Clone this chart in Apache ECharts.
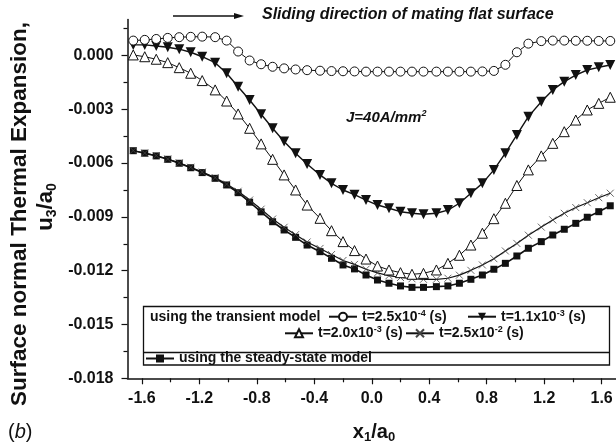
<!DOCTYPE html>
<html>
<head>
<meta charset="utf-8">
<script src="https://cdn.jsdelivr.net/npm/echarts@6/dist/echarts.min.js"></script>
<style>
  html, body { margin: 0; padding: 0; background: #fff; }
  #chart { width: 616px; height: 444px; }
</style>
</head>
<body>
<div id="chart"></div>
<script>
// Normalised position along the surface, x1/a0
const xPos = [-1.66, -1.58, -1.50, -1.42, -1.34, -1.26, -1.18, -1.09, -1.01, -0.93,
  -0.85, -0.77, -0.69, -0.61, -0.53, -0.45, -0.36, -0.28, -0.20, -0.12,
  -0.04, 0.04, 0.12, 0.20, 0.28, 0.36, 0.45, 0.53, 0.61, 0.69,
  0.77, 0.85, 0.93, 1.01, 1.09, 1.18, 1.26, 1.34, 1.42, 1.50, 1.58, 1.66];

// Transient model, t = 2.5x10^-4 s
const uT1 = [0.00083, 0.00087, 0.00092, 0.00098, 0.00102, 0.00104, 0.00105, 0.00102, 0.00083, 0.00022,
  -0.00028, -0.00049, -0.00063, -0.00072, -0.00078, -0.00082, -0.00085, -0.00087, -0.00088, -0.00089,
  -0.0009, -0.0009, -0.0009, -0.0009, -0.0009, -0.0009, -0.0009, -0.0009, -0.0009, -0.0009,
  -0.00089, -0.00086, -0.00052, 0.00018, 0.00066, 0.0008, 0.00083, 0.00083, 0.00082, 0.00082, 0.00081, 0.00081];

// Transient model, t = 1.1x10^-3 s
const uT2 = [0.00059, 0.00059, 0.00053, 0.00046, 0.00035, 0.00018, -0.00007, -0.0004, -0.00099, -0.00174,
  -0.00248, -0.00328, -0.00406, -0.0048, -0.00545, -0.00605, -0.00666, -0.00713, -0.0075, -0.00776,
  -0.00806, -0.00834, -0.00852, -0.00871, -0.0088, -0.00885, -0.0088, -0.00862, -0.00824, -0.00768,
  -0.00713, -0.00638, -0.00545, -0.00443, -0.00341, -0.00258, -0.00192, -0.00146, -0.00109, -0.00081, -0.00066, -0.00053];

// Transient model, t = 2.0x10^-3 s
const uT3 = [0.00003, -0.00007, -0.00021, -0.0004, -0.00068, -0.00099, -0.0014, -0.00192, -0.00254, -0.00326,
  -0.00406, -0.00493, -0.00579, -0.00666, -0.0075, -0.00834, -0.00908, -0.00977, -0.01038, -0.01088,
  -0.01135, -0.01174, -0.01196, -0.01211, -0.0122, -0.01215, -0.01196, -0.01159, -0.01114, -0.01057,
  -0.00991, -0.0091, -0.00824, -0.00725, -0.00638, -0.0056, -0.0049, -0.00425, -0.0036, -0.00304, -0.00267, -0.00233];

// Transient model, t = 2.5x10^-2 s
const uT4 = [-0.0053, -0.00544, -0.00558, -0.00577, -0.00599, -0.00623, -0.0065, -0.00681, -0.00717, -0.00757,
  -0.00806, -0.00857, -0.00912, -0.00958, -0.00999, -0.0104, -0.01076, -0.0111, -0.01143, -0.01165,
  -0.01192, -0.01212, -0.01228, -0.01238, -0.01245, -0.01248, -0.01248, -0.01242, -0.01225, -0.01198,
  -0.01168, -0.01133, -0.0109, -0.01048, -0.01002, -0.00957, -0.00917, -0.0088, -0.00848, -0.00821, -0.00793, -0.00768];

// Steady-state model
const uSteady = [-0.00531, -0.00545, -0.0056, -0.00579, -0.00601, -0.00626, -0.00653, -0.00685, -0.00722, -0.00765,
  -0.00818, -0.00872, -0.00927, -0.00973, -0.01014, -0.01057, -0.01094, -0.01131, -0.01168, -0.0119,
  -0.01224, -0.01252, -0.0127, -0.01285, -0.01293, -0.01293, -0.01289, -0.01285, -0.0127, -0.01248,
  -0.01224, -0.01192, -0.01159, -0.01118, -0.01075, -0.01038, -0.01001, -0.00969, -0.00936, -0.00902, -0.00871, -0.00838];

// Axis ticks
const xMajorTicks = [-1.6, -1.2, -0.8, -0.4, 0.0, 0.4, 0.8, 1.2, 1.6];
const xMinorTicks = [-1.4, -1.0, -0.6, -0.2, 0.2, 0.6, 1.0, 1.4];
const yMajorTicks = [-0.018, -0.015, -0.012, -0.009, -0.006, -0.003, 0.0];
const yMinorTicks = [-0.0165, -0.0135, -0.0105, -0.0075, -0.0045, -0.0015, 0.0015];

// Legend entries: series name -> rich-text label
const seriesNames = ['t=2.5x10-4 (s)', 't=1.1x10-3 (s)', 't=2.0x10-3 (s)', 't=2.5x10-2 (s)', 'using the steady-state model'];
const legendRich = {
  't=2.5x10-4 (s)': '{t|t=2.5x10}{sup|-4}{t| (s)}',
  't=1.1x10-3 (s)': '{t|t=1.1x10}{sup|-3}{t| (s)}',
  't=2.0x10-3 (s)': '{t|t=2.0x10}{sup|-3}{t| (s)}',
  't=2.5x10-2 (s)': '{t|t=2.5x10}{sup|-2}{t| (s)}',
  'using the steady-state model': '{t|using the steady-state model}'
};

const FONT = '"Liberation Sans", Arial, Helvetica, sans-serif';
const INK = '#111';

const pairs = vals => xPos.map((x, i) => [x, vals[i]]);

const chart = echarts.init(document.getElementById('chart'), null, { renderer: 'canvas' });

function legendAt(name, left, top) {
  return {
    data: [name],
    left: left, top: top,
    orient: 'horizontal',
    padding: 0,
    itemWidth: 28, itemHeight: 10, itemGap: 0,
    selectedMode: false,
    formatter: n => legendRich[n],
    textStyle: {
      fontFamily: FONT, fontSize: 14, fontWeight: 'bold', color: INK, lineHeight: 16,
      rich: {
        t: { fontFamily: FONT, fontSize: 14, fontWeight: 'bold', color: INK, lineHeight: 16 },
        sup: { fontFamily: FONT, fontSize: 9, fontWeight: 'bold', color: INK, lineHeight: 10, verticalAlign: 'top' }
      }
    }
  };
}

const crossPath = 'path://M0,0L10,10M10,0L0,10';

const option = {
  backgroundColor: '#fff',
  animation: false,
  grid: { left: 127.5, top: 19.6, width: 490, height: 358.7, containLabel: false },
  xAxis: [
    {
      type: 'value', min: -1.7, max: 1.7,
      axisLine: { show: true, onZero: false, lineStyle: { color: INK, width: 1.5 } },
      axisTick: { show: true, inside: false, length: 6, customValues: xMajorTicks, lineStyle: { color: INK, width: 1.2 } },
      axisLabel: { show: true, customValues: xMajorTicks, margin: 12, formatter: v => v.toFixed(1),
        fontFamily: FONT, fontSize: 16, fontWeight: 'bold', color: INK },
      splitLine: { show: false }
    },
    {
      type: 'value', min: -1.7, max: 1.7, position: 'bottom',
      axisLine: { show: false, onZero: false },
      axisTick: { show: true, inside: false, length: 4, customValues: xMinorTicks, lineStyle: { color: INK, width: 1.2 } },
      axisLabel: { show: false },
      splitLine: { show: false }
    }
  ],
  yAxis: [
    {
      type: 'value', min: -0.018, max: 0.002,
      axisLine: { show: true, onZero: false, lineStyle: { color: INK, width: 1.5 } },
      axisTick: { show: true, inside: false, length: 6, customValues: yMajorTicks, lineStyle: { color: INK, width: 1.2 } },
      axisLabel: { show: true, customValues: yMajorTicks, margin: 14, formatter: v => v.toFixed(3),
        fontFamily: FONT, fontSize: 16, fontWeight: 'bold', color: INK },
      splitLine: { show: false }
    },
    {
      type: 'value', min: -0.018, max: 0.002, position: 'left',
      axisLine: { show: false, onZero: false },
      axisTick: { show: true, inside: false, length: 4, customValues: yMinorTicks, lineStyle: { color: INK, width: 1.2 } },
      axisLabel: { show: false },
      splitLine: { show: false }
    }
  ],
  legend: [
    legendAt(seriesNames[0], 328, 308.7),
    legendAt(seriesNames[1], 467, 308.7),
    legendAt(seriesNames[2], 284, 325.3),
    legendAt(seriesNames[3], 405, 325.3),
    legendAt(seriesNames[4], 145, 350.5)
  ],
  series: [
    {
      name: seriesNames[4], type: 'line', data: pairs(uSteady),
      symbol: 'rect', symbolSize: 7,
      lineStyle: { color: INK, width: 1.6 },
      itemStyle: { color: INK, borderColor: INK, borderWidth: 0 }
    },
    {
      name: seriesNames[3], type: 'line', data: pairs(uT4),
      symbol: crossPath, symbolSize: 7,
      lineStyle: { color: INK, width: 1.2 },
      itemStyle: { color: '#444', borderColor: '#444', borderWidth: 0.8 }
    },
    {
      name: seriesNames[2], type: 'line', data: pairs(uT3),
      symbol: 'triangle', symbolSize: 10,
      lineStyle: { color: INK, width: 1 },
      itemStyle: { color: '#fff', borderColor: INK, borderWidth: 1 }
    },
    {
      name: seriesNames[1], type: 'line', data: pairs(uT2),
      symbol: 'triangle', symbolRotate: 180, symbolSize: 10,
      lineStyle: { color: INK, width: 1.4 },
      itemStyle: { color: INK, borderColor: INK, borderWidth: 0 }
    },
    {
      name: seriesNames[0], type: 'line', data: pairs(uT1),
      symbol: 'circle', symbolSize: 9,
      lineStyle: { color: INK, width: 1 },
      itemStyle: { color: '#fff', borderColor: INK, borderWidth: 1 }
    }
  ],
  graphic: [
    // legend frame with divider
    { type: 'rect', shape: { x: 143.5, y: 306.5, width: 466, height: 58.5 },
      style: { fill: 'none', stroke: INK, lineWidth: 1.3 }, z: 10 },
    { type: 'line', shape: { x1: 143.5, y1: 352.5, x2: 609.5, y2: 352.5 },
      style: { stroke: INK, lineWidth: 1.3 }, z: 10 },
    { type: 'text', x: 150, y: 317, z: 10,
      style: { text: 'using the transient model', font: 'bold 14px ' + FONT, fill: INK,
        align: 'left', verticalAlign: 'middle' } },
    // sliding direction arrow
    { type: 'line', shape: { x1: 173, y1: 16, x2: 236, y2: 16 },
      style: { stroke: INK, lineWidth: 1.3 } },
    { type: 'polygon', shape: { points: [[244, 16], [234, 13], [234, 19]] },
      style: { fill: INK } },
    { type: 'text', x: 262, y: 15,
      style: { text: 'Sliding direction of mating flat surface', font: 'italic bold 16px ' + FONT, fill: INK,
        align: 'left', verticalAlign: 'middle' } },
    // current density note
    { type: 'text', x: 346, y: 118,
      style: { text: '{a|J=40A/mm}{s|2}', fill: INK, align: 'left', verticalAlign: 'middle',
        rich: {
          a: { font: 'italic bold 15px ' + FONT, fill: INK, lineHeight: 18 },
          s: { font: 'italic bold 9px ' + FONT, fill: INK, lineHeight: 10, verticalAlign: 'top' }
        } } },
    // y-axis title
    { type: 'text', x: 20, y: 214, rotation: Math.PI / 2,
      style: { text: 'Surface normal Thermal Expansion,', font: 'bold 22.5px ' + FONT, fill: INK,
        align: 'center', verticalAlign: 'middle' } },
    { type: 'text', x: 46, y: 207, rotation: Math.PI / 2,
      style: { text: '{b|u}{s|3}{b|/a}{s|0}', fill: INK, align: 'center', verticalAlign: 'middle',
        rich: {
          b: { font: 'bold 22px ' + FONT, fill: INK, lineHeight: 26 },
          s: { font: 'bold 14px ' + FONT, fill: INK, lineHeight: 14, verticalAlign: 'bottom', padding: [6, 0, 0, 0] }
        } } },
    // x-axis title
    { type: 'text', x: 374, y: 432,
      style: { text: '{b|x}{s|1}{b|/a}{s|0}', fill: INK, align: 'center', verticalAlign: 'middle',
        rich: {
          b: { font: 'bold 20px ' + FONT, fill: INK, lineHeight: 24 },
          s: { font: 'bold 13px ' + FONT, fill: INK, lineHeight: 13, verticalAlign: 'bottom', padding: [6, 0, 0, 0] }
        } } },
    // panel tag
    { type: 'text', x: 8, y: 432,
      style: { text: '{p|(}{i|b}{p|)}', fill: INK, align: 'left', verticalAlign: 'middle',
        rich: {
          p: { font: '20px ' + FONT, fill: INK, lineHeight: 24 },
          i: { font: 'italic 20px ' + FONT, fill: INK, lineHeight: 24 }
        } } }
  ]
};

chart.setOption(option);
</script>
</body>
</html>
